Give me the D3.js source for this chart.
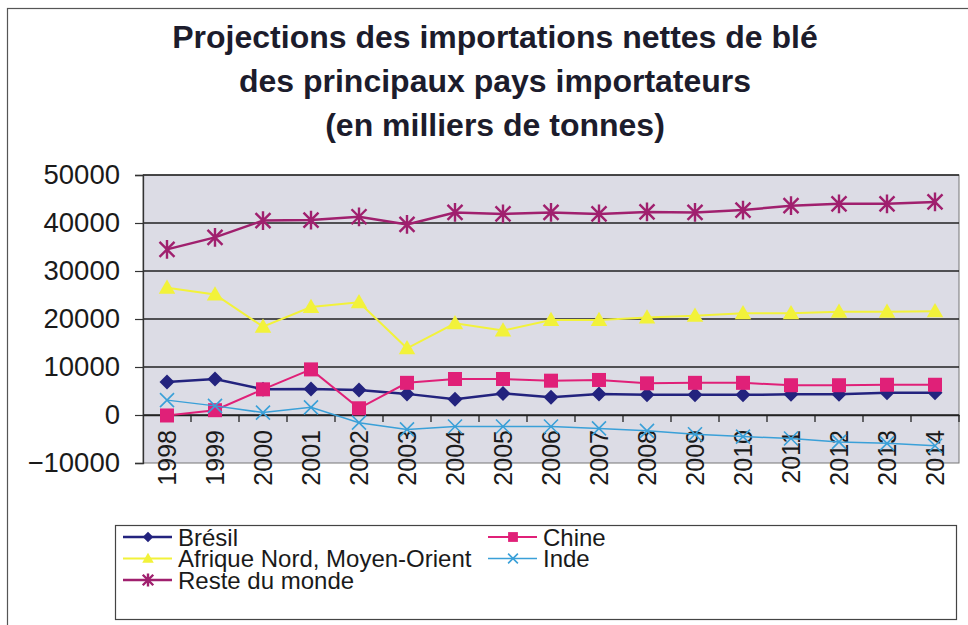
<!DOCTYPE html>
<html><head><meta charset="utf-8">
<script src="https://cdn.jsdelivr.net/npm/d3@7"></script>
<style>body{margin:0;background:#fff}svg{display:block;font-family:"Liberation Sans",Arial,sans-serif}</style>
</head><body><svg id="c" width="968" height="625"></svg>
<script>
const years = ["1998","1999","2000","2001","2002","2003","2004","2005","2006","2007","2008","2009","2010","2011","2012","2013","2014"];
const bresil = [6900,7500,5350,5400,5200,4400,3300,4500,3700,4400,4200,4200,4200,4300,4300,4650,4650];
const chine = [-100,1000,5350,9500,1400,6700,7500,7500,7150,7300,6600,6700,6700,6200,6200,6300,6300];
const afrique = [26500,25100,18400,22500,23500,13900,19100,17600,19800,19800,20300,20700,21200,21200,21500,21500,21600];
const inde = [3100,1900,500,1600,-1600,-3000,-2400,-2400,-2400,-2800,-3300,-4000,-4500,-4900,-5600,-5900,-6400];
const reste = [34500,37000,40500,40600,41300,39700,42200,41900,42200,41900,42300,42200,42700,43600,44000,44000,44400];
const yTicks = [-10000,0,10000,20000,30000,40000,50000];
const titleLines = ["Projections des importations nettes de blé","des principaux pays importateurs","(en milliers de tonnes)"];
const seriesNames = ["Brésil","Chine","Afrique Nord, Moyen-Orient","Inde","Reste du monde"];

const series = [
  {name:seriesNames[0], values:bresil, color:"#23237e", width:2.5, marker:"diamond"},
  {name:seriesNames[1], values:chine, color:"#e02078", width:2, marker:"square"},
  {name:seriesNames[2], values:afrique, color:"#f2f23a", width:2, marker:"triangle"},
  {name:seriesNames[3], values:inde, color:"#3aa0d8", width:1.5, marker:"x"},
  {name:seriesNames[4], values:reste, color:"#a0206e", width:2.5, marker:"star"}
];

const svg = d3.select("#c");
const L=143, R=959, T=175, B=463;
const x = d3.scaleBand().domain(years).range([L,R]);
const y = d3.scaleLinear().domain([-10000,50000]).range([B,T]);
const cx = d => x(d)+x.bandwidth()/2;

// outer border
svg.append("rect").attr("x",7.5).attr("y",8.5).attr("width",980).attr("height",640)
  .attr("fill","#fff").attr("stroke","#555").attr("stroke-width",1.2);

// title
svg.append("g").selectAll("text").data(titleLines).join("text")
  .attr("x",495).attr("y",(d,i)=>48+i*44).attr("text-anchor","middle")
  .attr("font-size",32).attr("font-weight","bold").attr("fill","#1c1c2c").text(d=>d);

// plot area
svg.append("rect").attr("x",L).attr("y",T).attr("width",R-L).attr("height",B-T)
  .attr("fill","#dcdce5").attr("stroke","#777").attr("stroke-width",1);

// gridlines
svg.append("g").selectAll("line").data(yTicks.filter(v=>v>-10000)).join("line")
  .attr("x1",L).attr("x2",R).attr("y1",d=>y(d)).attr("y2",d=>y(d))
  .attr("stroke","#222").attr("stroke-width",1.3);

// y axis
const ya = svg.append("g").attr("transform",`translate(${L},0)`)
  .call(d3.axisLeft(y).tickValues(yTicks).tickSize(8).tickPadding(15).tickFormat(d3.format("d")));
ya.select(".domain").attr("stroke","#333").attr("stroke-width",1.3);
ya.selectAll(".tick line").attr("stroke","#333").attr("stroke-width",1.2);
ya.selectAll("text").attr("font-size",27.5).attr("fill","#1a1a1a").attr("font-family","Liberation Sans, Arial, sans-serif");

// x axis at zero
const xa = svg.append("g").attr("transform",`translate(0,${y(0)})`)
  .call(d3.axisBottom(x).tickSize(0).tickPadding(0));
xa.select(".domain").attr("stroke","#222").attr("stroke-width",1.5);
xa.selectAll(".tick text").attr("font-size",25).attr("fill","#1a1a1a")
  .attr("font-family","Liberation Sans, Arial, sans-serif")
  .attr("text-anchor","end").attr("dy",null).attr("y",0)
  .attr("transform","translate(9,15) rotate(-90)");
// boundary ticks
const bounds = years.map(d=>x(d)).concat([R]);
svg.append("g").selectAll("line").data(bounds.slice(1)).join("line")
  .attr("x1",d=>d).attr("x2",d=>d).attr("y1",y(0)).attr("y2",y(0)+7)
  .attr("stroke","#222").attr("stroke-width",1.3);

// markers
function drawMarker(g, type, color, s){
  if(type==="diamond"){
    g.append("path").attr("d",`M0,${-s}L${s},0L0,${s}L${-s},0Z`).attr("fill",color);
  } else if(type==="square"){
    g.append("rect").attr("x",-s).attr("y",-s).attr("width",2*s).attr("height",2*s).attr("fill",color);
  } else if(type==="triangle"){
    g.append("path").attr("d",`M0,${-s*1.1}L${s*1.1},${s*0.8}L${-s*1.1},${s*0.8}Z`).attr("fill",color);
  } else if(type==="x"){
    g.append("path").attr("d",`M${-s},${-s}L${s},${s}M${-s},${s}L${s},${-s}`).attr("stroke",color).attr("stroke-width",1.6);
  } else if(type==="star"){
    g.append("path").attr("d",`M${-s},${-s}L${s},${s}M${-s},${s}L${s},${-s}M0,${-s*1.25}L0,${s*1.25}`).attr("stroke",color).attr("stroke-width",2.4);
  }
}
const sizes = {diamond:7.5, square:7, triangle:7.5, x:7, star:7.5};
const line = d3.line().x((d,i)=>cx(years[i])).y(d=>y(d));
series.forEach(s=>{
  const g = svg.append("g");
  g.append("path").datum(s.values).attr("d",line).attr("fill","none")
    .attr("stroke",s.color).attr("stroke-width",s.width);
  s.values.forEach((v,i)=>{
    const m = g.append("g").attr("transform",`translate(${cx(years[i])},${y(v)})`);
    drawMarker(m,s.marker,s.color,sizes[s.marker]);
  });
});

// legend
const lg = svg.append("g");
lg.append("rect").attr("x",115.5).attr("y",525.5).attr("width",841).attr("height",94)
  .attr("fill","#fff").attr("stroke","#444").attr("stroke-width",1.2);
const legendPos = [
  {s:0, x:123, y:537},{s:1, x:488, y:537},
  {s:2, x:123, y:558.5},{s:3, x:488, y:558.5},
  {s:4, x:123, y:580}
];
legendPos.forEach(p=>{
  const s = series[p.s];
  const g = lg.append("g").attr("transform",`translate(${p.x},${p.y})`);
  g.append("line").attr("x1",0).attr("x2",49).attr("y1",0).attr("y2",0)
    .attr("stroke",s.color).attr("stroke-width",s.width);
  const m = g.append("g").attr("transform","translate(25,0)");
  drawMarker(m,s.marker,s.color,sizes[s.marker]*0.7);
  g.append("text").attr("x",55).attr("y",0).attr("dy","0.36em")
    .attr("font-size",24).attr("fill","#1a1a1a").text(s.name);
});
</script></body></html>
